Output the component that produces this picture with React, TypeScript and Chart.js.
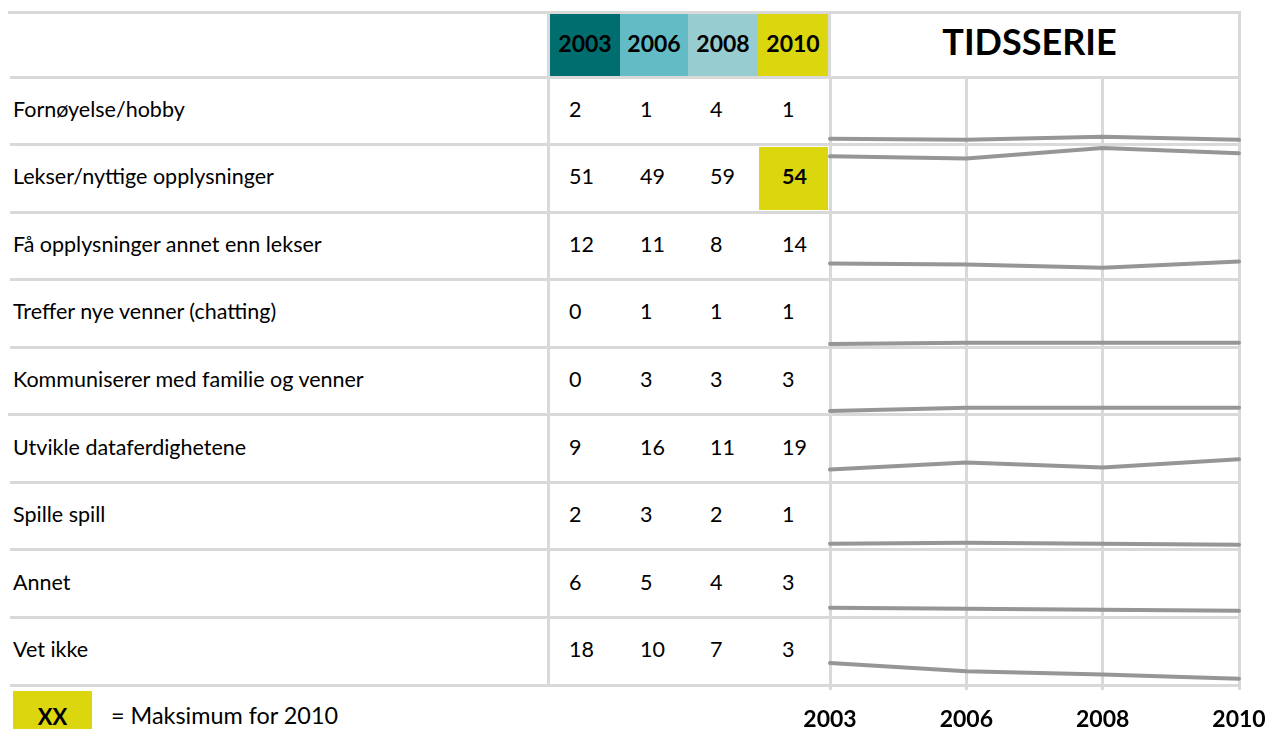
import React, { useEffect, useRef } from "react";
import { Chart, registerables } from "chart.js";

Chart.register(...registerables);

// ---- data ----
const years = ["2003", "2006", "2008", "2010"];
const categories = [
  "Fornøyelse/hobby",
  "Lekser/nyttige opplysninger",
  "Få opplysninger annet enn lekser",
  "Treffer nye venner (chatting)",
  "Kommuniserer med familie og venner",
  "Utvikle dataferdighetene",
  "Spille spill",
  "Annet",
  "Vet ikke",
];
const v2003 = [2, 51, 12, 0, 0, 9, 2, 6, 18];
const v2006 = [1, 49, 11, 1, 3, 16, 3, 5, 10];
const v2008 = [4, 59, 8, 1, 3, 11, 2, 4, 7];
const v2010 = [1, 54, 14, 1, 3, 19, 1, 3, 3];
const seriesByYear = [v2003, v2006, v2008, v2010];
const title = "TIDSSERIE";
const legendText = "= Maksimum for 2010";

// ---- styling / layout ----
const FONT = "Lato, 'Open Sans', sans-serif";
const GRID = "#d9d9d9";
const LINE = "#969699";
const headerColors = ["#006d6f", "#63bbc5", "#97cdd1", "#dcd60e"];
const colLeft = [550, 620, 688, 758];
const colWidth = [70, 68, 70, 70];
const numLeft = [569, 640, 710, 782];
const ROW_TOP = 77;
const ROW_H = 67.56;
const CHART_LEFT = 800;
const CHART_W = 469;
const PAD_X = 30;
const SPARK_H = 68;
const LAST_H = 115;
const AXIS_H = 46;
const Y_MIN = -4;
const Y_MAX = 62;
const TEXT_SIZE = 21.5;

Chart.defaults.font.family = FONT;

function Spark({ values, top, last }: { values: number[]; top: number; last: boolean }) {
  const ref = useRef<HTMLCanvasElement>(null);
  const height = last ? LAST_H : SPARK_H;
  useEffect(() => {
    const chart = new Chart(ref.current as HTMLCanvasElement, {
      type: "line",
      data: {
        labels: years,
        datasets: [
          {
            data: values,
            borderColor: LINE,
            borderWidth: 4,
            pointRadius: 0,
            tension: 0,
            borderCapStyle: "round",
            borderJoinStyle: "round",
            fill: false,
          },
        ],
      },
      options: {
        animation: false,
        responsive: false,
        devicePixelRatio: 1,
        layout: { padding: { left: PAD_X, right: PAD_X, top: 0, bottom: 0 } },
        plugins: { legend: { display: false }, tooltip: { enabled: false } },
        scales: {
          x: {
            offset: false,
            border: { display: false },
            grid: {
              color: GRID,
              lineWidth: 3,
              drawTicks: last,
              tickLength: 4,
            },
            ticks: {
              display: last,
              padding: 16,
              maxRotation: 0,
              autoSkip: false,
              color: "#000",
              font: { family: FONT, size: 23, weight: "bold" },
            },
            afterFit: (scale: any) => {
              scale.paddingLeft = 0;
              scale.paddingRight = 0;
              scale.height = last ? AXIS_H : 0;
            },
          },
          y: { display: false, min: Y_MIN, max: Y_MAX },
        },
      },
    });
    return () => chart.destroy();
  }, []);
  return (
    <canvas
      ref={ref}
      width={CHART_W}
      height={height}
      style={{ position: "absolute", left: CHART_LEFT, top, width: CHART_W, height, zIndex: 2 }}
    />
  );
}

function HLine({ y, x1, x2 }: { y: number; x1: number; x2: number }) {
  return (
    <div
      style={{ position: "absolute", left: x1, top: y - 1.5, width: x2 - x1, height: 3, background: GRID }}
    />
  );
}
function VLine({ x, y1, y2 }: { x: number; y1: number; y2: number }) {
  return (
    <div
      style={{ position: "absolute", left: x - 1.5, top: y1, width: 3, height: y2 - y1, background: GRID }}
    />
  );
}

export default function App() {
  const max2010 = Math.max(...v2010);
  const rowLines = Array.from({ length: categories.length + 1 }, (_, i) => ROW_TOP + i * ROW_H);
  return (
    <div
      style={{
        position: "absolute",
        left: 0,
        top: 0,
        width: 1269,
        height: 729,
        overflow: "hidden",
        background: "#fff",
        fontFamily: FONT,
        color: "#000",
      }}
    >
      {/* header year cells */}
      {years.map((y, i) => (
        <div
          key={y}
          style={{
            position: "absolute",
            left: colLeft[i],
            top: 14,
            width: colWidth[i],
            height: 62,
            background: headerColors[i],
            display: "flex",
            alignItems: "center",
            justifyContent: "center",
            fontWeight: 700,
            fontSize: 23,
          }}
        >
          <span style={{ position: "relative", top: -2 }}>{y}</span>
        </div>
      ))}
      <div
        style={{
          position: "absolute",
          left: 820,
          top: 10,
          width: 419,
          height: 62,
          display: "flex",
          alignItems: "center",
          justifyContent: "center",
          fontWeight: 700,
          fontSize: 36,
        }}
      >
        {title}
      </div>

      {/* highlight cell for the 2010 maximum */}
      {v2010.map((v, i) =>
        v === max2010 ? (
          <div
            key={"hl" + i}
            style={{
              position: "absolute",
              left: 759,
              top: ROW_TOP + i * ROW_H + 2,
              width: 69,
              height: ROW_H - 4,
              background: headerColors[3],
            }}
          />
        ) : null
      )}

      {/* table lines */}
      <HLine y={12} x1={8} x2={1240} />
      {rowLines.map((y, i) => (
        <HLine key={"r" + i} y={y} x1={i === 5 ? 8 : 10} x2={1240} />
      ))}
      <VLine x={548.5} y1={11} y2={687} />
      <VLine x={829} y1={11} y2={78} />
      <VLine x={1239} y1={11} y2={78} />

      {/* category labels and values */}
      {categories.map((c, i) => (
        <React.Fragment key={c}>
          <div
            style={{
              position: "absolute",
              left: 13,
              top: ROW_TOP + i * ROW_H - 2,
              height: ROW_H,
              display: "flex",
              alignItems: "center",
              fontSize: TEXT_SIZE,
              whiteSpace: "nowrap",
            }}
          >
            {c}
          </div>
          {seriesByYear.map((s, j) => (
            <div
              key={j}
              style={{
                position: "absolute",
                left: numLeft[j],
                top: ROW_TOP + i * ROW_H - 2,
                height: ROW_H,
                display: "flex",
                alignItems: "center",
                fontSize: TEXT_SIZE,
                fontWeight: j === 3 && s[i] === max2010 ? 700 : 400,
              }}
            >
              {s[i]}
            </div>
          ))}
        </React.Fragment>
      ))}

      {/* sparklines */}
      {categories.map((c, i) => (
        <Spark
          key={"s" + i}
          values={seriesByYear.map((s) => s[i])}
          top={ROW_TOP + i * ROW_H}
          last={i === categories.length - 1}
        />
      ))}

      {/* legend */}
      <div
        style={{
          position: "absolute",
          left: 13,
          top: 691,
          width: 79,
          height: 40,
          background: headerColors[3],
        }}
      />
      <div
        style={{
          position: "absolute",
          left: 13,
          top: 702,
          width: 79,
          height: 28,
          display: "flex",
          alignItems: "center",
          justifyContent: "center",
          fontWeight: 700,
          fontSize: 22,
        }}
      >
        XX
      </div>
      <div
        style={{
          position: "absolute",
          left: 111,
          top: 701,
          height: 28,
          display: "flex",
          alignItems: "center",
          fontSize: 23.4,
          whiteSpace: "nowrap",
        }}
      >
        {legendText}
      </div>
    </div>
  );
}
